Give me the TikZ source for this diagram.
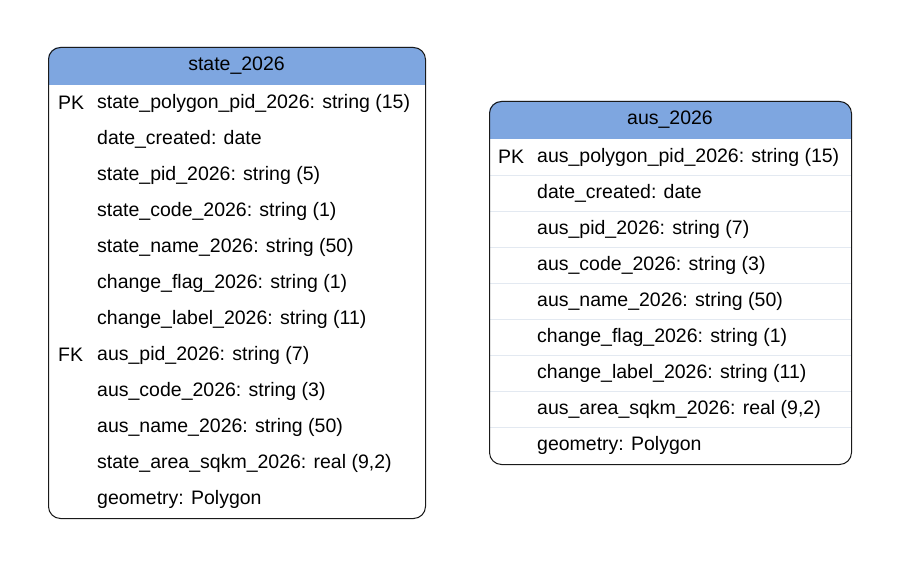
\documentclass[tikz,border=0pt]{standalone}
\usepackage{fontspec}
\usepackage{tikz}
\setmainfont{Liberation Sans}
\definecolor{hdrblue}{HTML}{7EA6E0}
\definecolor{edge}{HTML}{1A1A1A}
\definecolor{sepline}{HTML}{E3E9F1}

\begin{document}
\begin{tikzpicture}[x=1pt,y=-1pt,
	tbl/.style={draw=edge, line width=1pt, rounded corners=12pt, inner sep=0pt, anchor=north west},
	hdr/.style={fill=hdrblue},
	title/.style={font=\fontsize{19.5}{22}\selectfont, inner sep=0pt},
	fld/.style={anchor=west, font=\fontsize{19.5}{22}\selectfont, inner sep=0pt},
	sep/.style={draw=sepline, line width=0.8pt}]

			\useasboundingbox (0,0) rectangle (899,567);

			% state_2026
			\fill [hdr] (48,85) [rounded corners=12pt] -- (48,47) -- (425,47) [sharp corners] -- (425,85) -- cycle;
			\node [tbl, minimum width=377pt, minimum height=471pt] (state) at (48,47) {};
			\node [title] (state-t) at (236.5,66) {state\_2026};
			\node [fld] (state-pk) at (58,103) {PK};
			\node [fld] (state-fk) at (58,355) {FK};
			\foreach \f [count=\i] in {state\_polygon\_pid\_2026: string (15), date\_created: date, state\_pid\_2026: string (5), state\_code\_2026: string (1), state\_name\_2026: string (50), change\_flag\_2026: string (1), change\_label\_2026: string (11), aus\_pid\_2026: string (7), aus\_code\_2026: string (3), aus\_name\_2026: string (50), state\_area\_sqkm\_2026: real (9{,}2), geometry: Polygon} {
				\node [fld] (state-\i) at (97,67+36*\i) {\f};
			}

			% aus_2026
			\fill [hdr] (489,139) [rounded corners=12pt] -- (489,101) -- (851,101) [sharp corners] -- (851,139) -- cycle;
			\foreach \i in {1,...,8} {
				\draw [sep] (489,139+36*\i) -- (851,139+36*\i);
			}
			\node [tbl, minimum width=362pt, minimum height=363pt] (aus) at (489,101) {};
			\node [title] (aus-t) at (670,120) {aus\_2026};
			\node [fld] (aus-pk) at (498,157) {PK};
			\foreach \f [count=\i] in {aus\_polygon\_pid\_2026: string (15), date\_created: date, aus\_pid\_2026: string (7), aus\_code\_2026: string (3), aus\_name\_2026: string (50), change\_flag\_2026: string (1), change\_label\_2026: string (11), aus\_area\_sqkm\_2026: real (9{,}2), geometry: Polygon} {
				\node [fld] (aus-\i) at (537,121+36*\i) {\f};
			}
		\end{tikzpicture}
\end{document}
